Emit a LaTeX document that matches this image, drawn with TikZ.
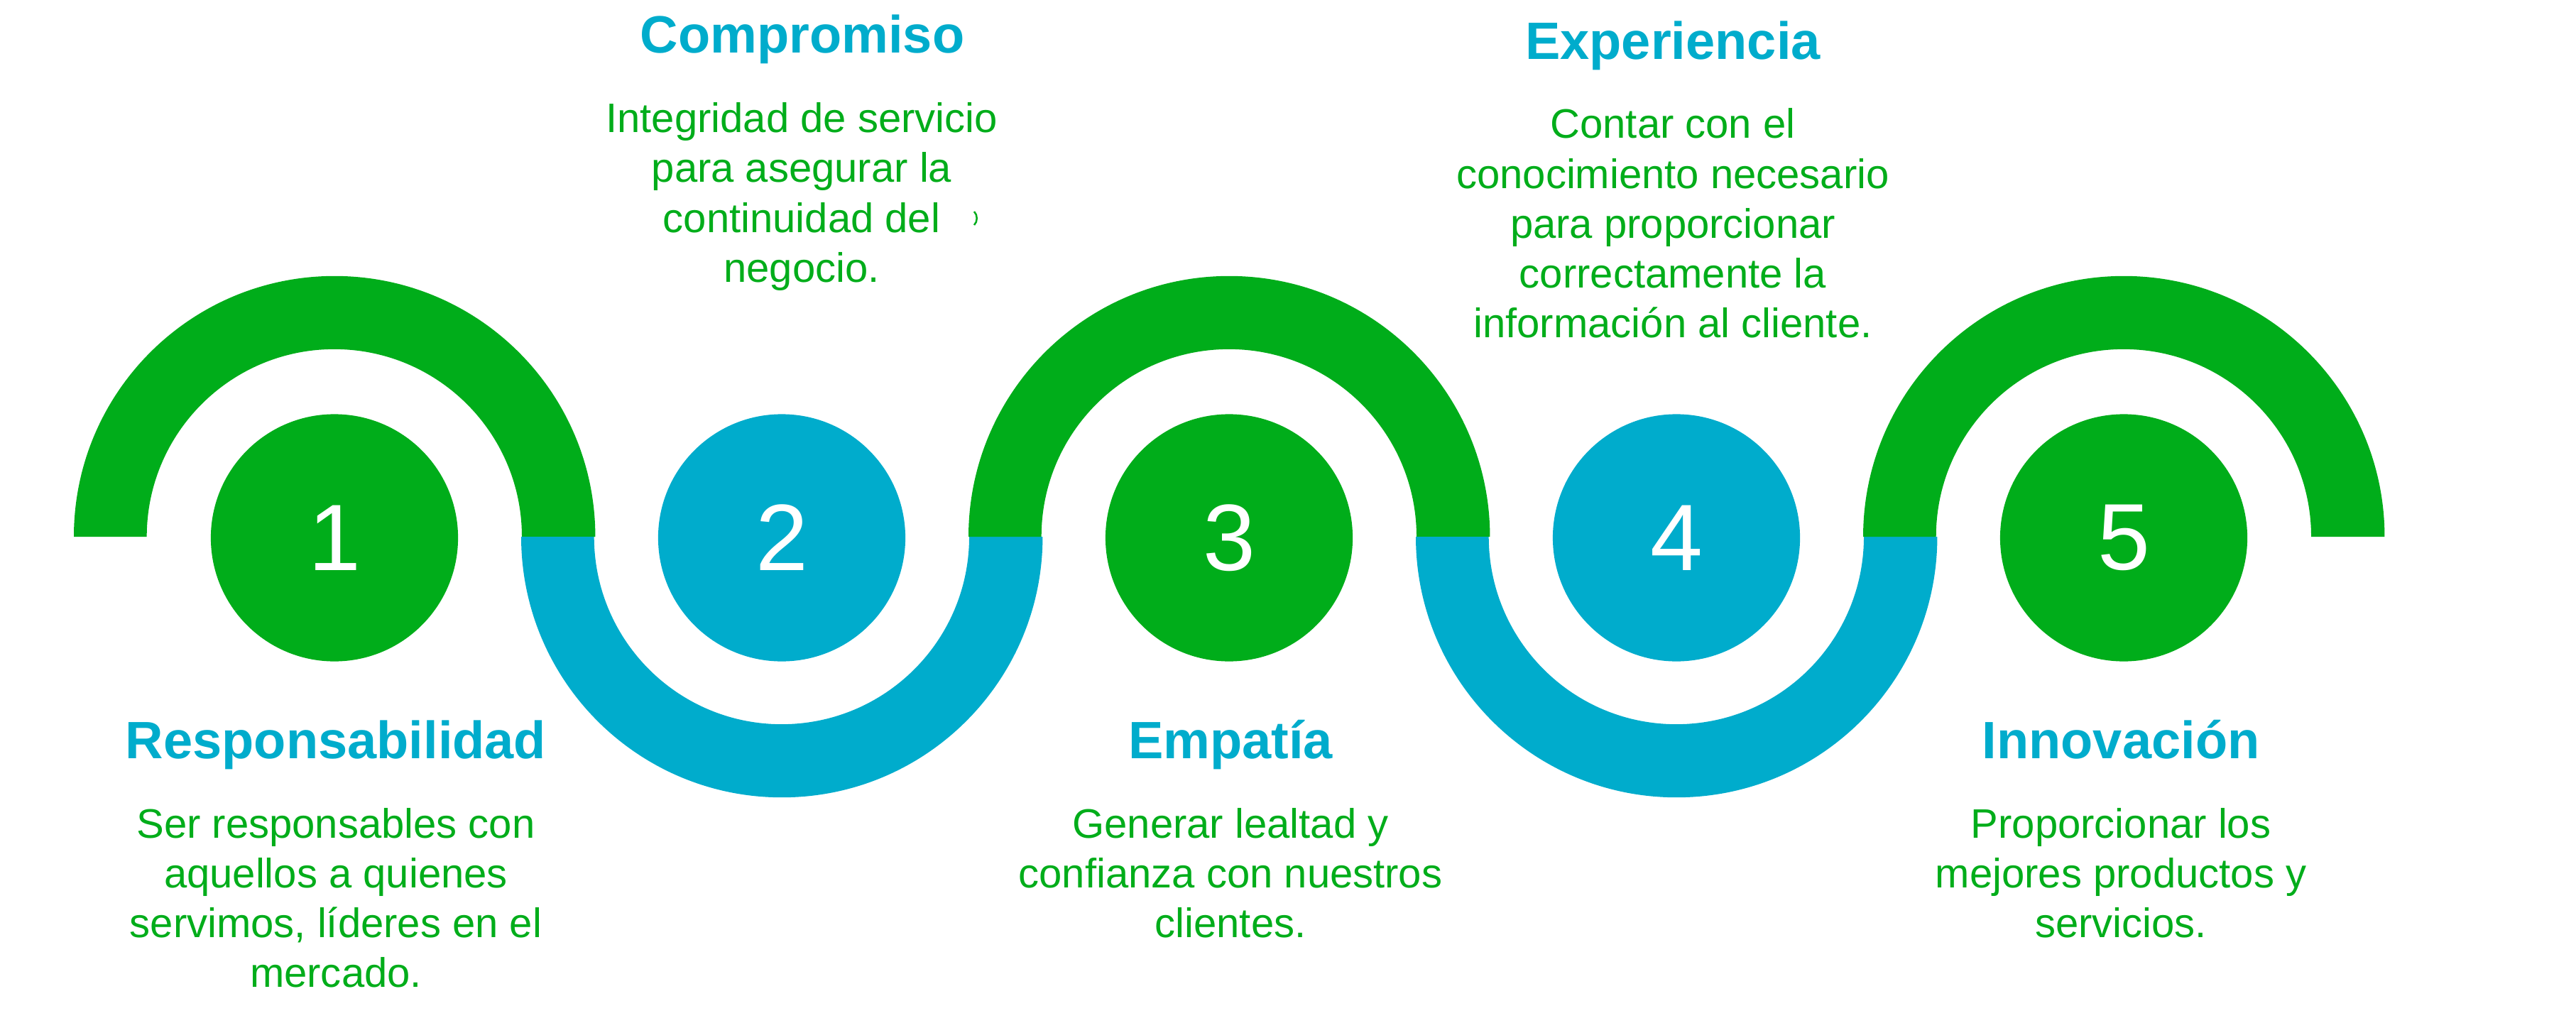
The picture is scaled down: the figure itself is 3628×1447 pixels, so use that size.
\documentclass[tikz,border=0pt]{standalone}
\usepackage{fontspec}
\setmainfont{Liberation Sans}
\definecolor{cgreen}{RGB}{0,173,26}
\definecolor{cblue}{RGB}{0,172,204}
\tikzset{
  titletext/.style={font=\fontsize{21.05}{25}\selectfont\bfseries, text=cblue, anchor=base, inner sep=0pt},
  bodytext/.style={font=\fontsize{16.5}{20}\selectfont, text=cgreen, anchor=base, inner sep=0pt},
  numcircle/.style={circle, inner sep=0pt, minimum size=3.48cm, text=white, font=\fontsize{37.8}{40}\selectfont},
  toparc/.style={fill=cgreen},
  botarc/.style={fill=cblue}
}
\begin{document}
\begin{tikzpicture}[x=0.01cm,y=0.01cm]
\useasboundingbox (0,0) rectangle (3628,1447);
% S-shaped band
\fill[toparc] (104,691) arc[start angle=180,end angle=0,radius=3.67cm] -- (735,691) arc[start angle=0,end angle=180,radius=2.64cm] -- cycle;
\fill[botarc] (734,691) arc[start angle=180,end angle=360,radius=3.67cm] -- (1365,691) arc[start angle=360,end angle=180,radius=2.64cm] -- cycle;
\fill[toparc] (1364,691) arc[start angle=180,end angle=0,radius=3.67cm] -- (1995,691) arc[start angle=0,end angle=180,radius=2.64cm] -- cycle;
\fill[botarc] (1994,691) arc[start angle=180,end angle=360,radius=3.67cm] -- (2625,691) arc[start angle=360,end angle=180,radius=2.64cm] -- cycle;
\fill[toparc] (2624,691) arc[start angle=180,end angle=0,radius=3.67cm] -- (3255,691) arc[start angle=0,end angle=180,radius=2.64cm] -- cycle;
% numbered circles
\node[numcircle, fill=cgreen] (c1) at (471,689.5) {1};
\node[numcircle, fill=cblue]  (c2) at (1101,689.5) {2};
\node[numcircle, fill=cgreen] (c3) at (1731,689.5) {3};
\node[numcircle, fill=cblue]  (c4) at (2361,689.5) {4};
\node[numcircle, fill=cgreen] (c5) at (2991,689.5) {5};
% 1 Responsabilidad
\node[titletext] (t1) at (473,379) {Responsabilidad};
\node[bodytext] (b1a) at (473,267) {Ser responsables con};
\node[bodytext] (b1b) at (473,197) {aquellos a quienes};
\node[bodytext] (b1c) at (473,127) {servimos, líderes en el};
\node[bodytext] (b1d) at (473,57) {mercado.};
% 2 Compromiso
\node[titletext] (t2) at (1130,1372) {Compromiso};
\begin{scope}
\clip (0,0) rectangle (1401,1447);
\node[bodytext] (b2a) at (1129,1261) {Integridad de servicio};
\end{scope}
\node[bodytext] (b2b) at (1129,1190.5) {para asegurar la};
\node[bodytext] (b2c) at (1129,1120) {continuidad del};
\node[bodytext] (b2d) at (1129,1050) {negocio.};
\draw[cgreen, line width=0.025cm] (1372,1149) .. controls (1377,1144) and (1377,1135) .. (1372,1130);
% 3 Empatia
\node[titletext] (t3) at (1733,379) {Empatía};
\node[bodytext] (b3a) at (1733,267) {Generar lealtad y};
\node[bodytext] (b3b) at (1733,197) {confianza con nuestros};
\node[bodytext] (b3c) at (1733,127) {clientes.};
% 4 Experiencia
\node[titletext] (t4) at (2356,1363) {Experiencia};
\node[bodytext] (b4a) at (2356,1252) {Contar con el};
\node[bodytext] (b4b) at (2356,1182) {conocimiento necesario};
\node[bodytext] (b4c) at (2356,1112) {para proporcionar};
\node[bodytext] (b4d) at (2356,1042) {correctamente la};
\node[bodytext] (b4e) at (2356,972) {información al cliente.};
% 5 Innovacion
\node[titletext] (t5) at (2987,379) {Innovación};
\node[bodytext] (b5a) at (2987,267) {Proporcionar los};
\node[bodytext] (b5b) at (2987,197) {mejores productos y};
\node[bodytext] (b5c) at (2987,127) {servicios.};
\end{tikzpicture}
\end{document}
